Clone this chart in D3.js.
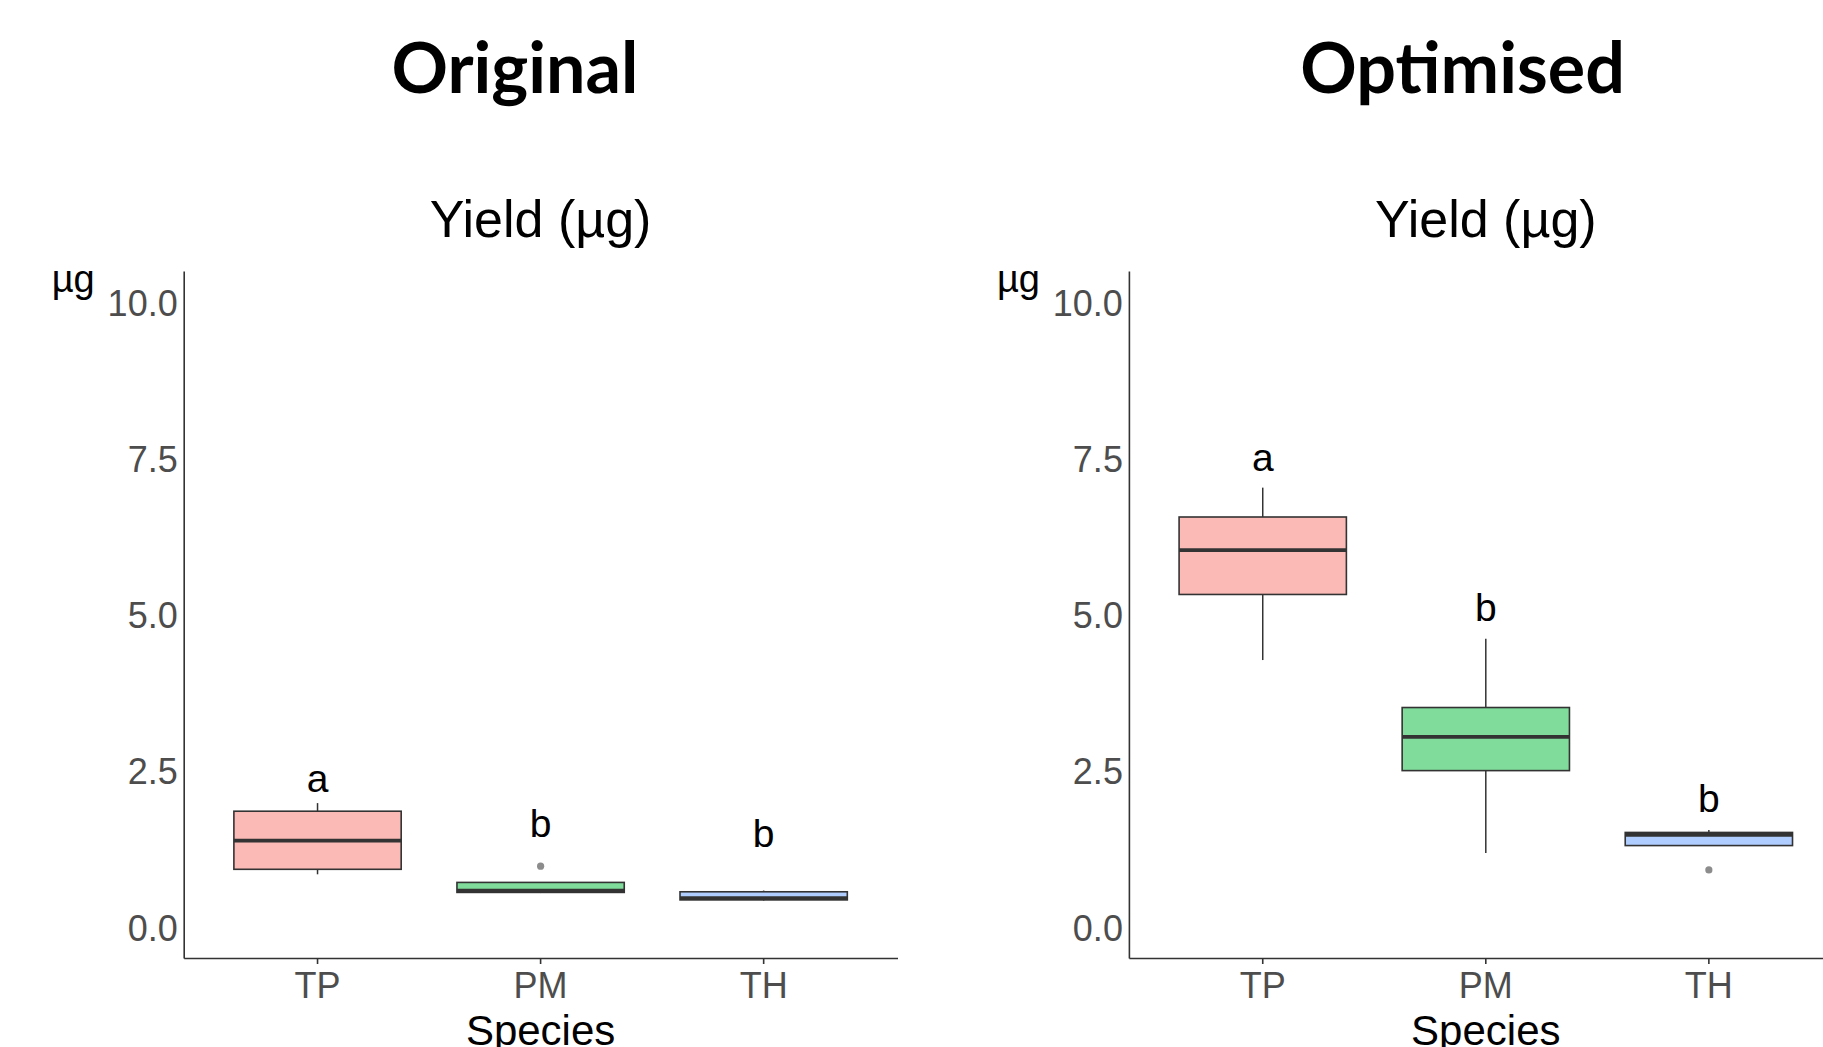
<!DOCTYPE html>
<html><head><meta charset="utf-8">
<script src="https://cdn.jsdelivr.net/npm/d3@7"></script>
<style>
html,body{margin:0;padding:0;background:#fff;}
svg{display:block;}
</style></head>
<body><svg id="chart" width="1823" height="1047"></svg>
<script>
// ---- data ----
const categories = ["TP", "PM", "TH"];
const panelTitles = ["Original", "Optimised"];
const subtitle = "Yield (µg)";
const yTicks = [0, 2.5, 5, 7.5, 10];
const fillColors = ["#F8766D", "#00BA38", "#619CFF"];

const origMin = [0.84, 0.54, 0.42];
const origQ1 = [0.92, 0.55, 0.43];
const origMed = [1.38, 0.58, 0.46];
const origQ3 = [1.85, 0.71, 0.56];
const origMax = [1.98, 0.71, 0.58];
const origOutliers = [[], [0.97], []];
const origLetters = ["a", "b", "b"];
const origLetterY = [2.16, 1.44, 1.28];

const optMin = [4.27, 1.18, 1.30];
const optQ1 = [5.32, 2.50, 1.30];
const optMed = [6.03, 3.04, 1.47];
const optQ3 = [6.56, 3.51, 1.51];
const optMax = [7.03, 4.61, 1.55];
const optOutliers = [[], [], [0.91]];
const optLetters = ["a", "b", "b"];
const optLetterY = [7.30, 4.90, 1.83];

// ---- build ----
(function () {
function series(min, q1, med, q3, max, out, letters, ly) {
  return categories.map((c, i) => ({cat: c, i, min: min[i], q1: q1[i], med: med[i], q3: q3[i], max: max[i], out: out[i], letter: letters[i], ly: ly[i]}));
}
const panels = [
  {title: panelTitles[0], data: series(origMin, origQ1, origMed, origQ3, origMax, origOutliers, origLetters, origLetterY), x0: 183.7, titleX: 515},
  {title: panelTitles[1], data: series(optMin, optQ1, optMed, optQ3, optMax, optOutliers, optLetters, optLetterY), x0: 1128.9, titleX: 1462.6}
];

const svg = d3.select("#chart");
const panelW = 713.8, plotTop = 270.9, plotBottom = 958;
const y = d3.scaleLinear().domain([-0.5, 10.5]).range([plotBottom, plotTop]);
const sans = "'Liberation Sans', Arial, sans-serif";
const dark = "#333333";

panels.forEach(p => {
  const g = svg.append("g");
  const x = d3.scaleBand().domain(categories).range([p.x0, p.x0 + panelW]).paddingInner(0).paddingOuter(0.1);
  const bw = x.bandwidth() * 0.75;
  const cx = d => x(d.cat) + x.bandwidth() / 2;

  g.append("text").attr("x", p.titleX).attr("y", 93).attr("text-anchor", "middle")
    .style("font-family", "Lato, sans-serif").style("font-weight", 700).style("font-size", "70px")
    .attr("fill", "#000").text(p.title);
  g.append("text").attr("x", p.x0 + panelW / 2).attr("y", 237).attr("text-anchor", "middle")
    .style("font-family", sans).style("font-size", "52px").attr("fill", "#000").text(subtitle);
  g.append("text").attr("x", p.x0 - 132).attr("y", 292)
    .style("font-family", sans).style("font-size", "38px").attr("fill", "#000").text("µg");

  const ya = g.append("g").attr("transform", `translate(${p.x0},0)`)
    .call(d3.axisLeft(y).tickValues(yTicks).tickFormat(d3.format(".1f")).tickSize(0).tickPadding(6));
  ya.select(".domain").attr("stroke", dark).attr("stroke-width", 1.6);
  ya.selectAll("text").attr("dy", "0.37em").style("font-family", sans).style("font-size", "36px").attr("fill", "#4D4D4D");

  const xa = g.append("g").attr("transform", `translate(0,${plotBottom})`)
    .call(d3.axisBottom(x).tickSize(6).tickSizeOuter(0).tickPadding(8));
  xa.select(".domain").attr("stroke", dark).attr("stroke-width", 1.6);
  xa.selectAll(".tick line").attr("stroke", dark).attr("stroke-width", 1.6);
  xa.selectAll("text").style("font-family", sans).style("font-size", "36px").attr("fill", "#4D4D4D");
  g.append("text").attr("x", p.x0 + panelW / 2).attr("y", 1045).attr("text-anchor", "middle")
    .style("font-family", sans).style("font-size", "42px").attr("fill", "#000").text("Species");

  const b = g.selectAll(".box").data(p.data).join("g").attr("class", "box");
  b.append("line").attr("x1", cx).attr("x2", cx).attr("y1", d => y(d.q3)).attr("y2", d => y(d.max))
    .attr("stroke", dark).attr("stroke-width", 1.5);
  b.append("line").attr("x1", cx).attr("x2", cx).attr("y1", d => y(d.q1)).attr("y2", d => y(d.min))
    .attr("stroke", dark).attr("stroke-width", 1.5);
  b.append("rect").attr("x", d => cx(d) - bw / 2).attr("width", bw)
    .attr("y", d => y(d.q3)).attr("height", d => y(d.q1) - y(d.q3))
    .attr("fill", d => fillColors[d.i]).attr("fill-opacity", 0.5)
    .attr("stroke", dark).attr("stroke-width", 1.6);
  b.append("line").attr("x1", d => cx(d) - bw / 2).attr("x2", d => cx(d) + bw / 2)
    .attr("y1", d => y(d.med)).attr("y2", d => y(d.med))
    .attr("stroke", dark).attr("stroke-width", 3.8);
  b.selectAll("circle").data(d => d.out.map(v => ({v, c: cx(d)}))).join("circle")
    .attr("cx", d => d.c).attr("cy", d => y(d.v)).attr("r", 3.6).attr("fill", "#8C8C8C");
  b.append("text").attr("x", cx).attr("y", d => y(d.ly)).attr("text-anchor", "middle")
    .style("font-family", sans).style("font-size", "39px").attr("fill", "#000").text(d => d.letter);
});
})();
</script></body></html>
